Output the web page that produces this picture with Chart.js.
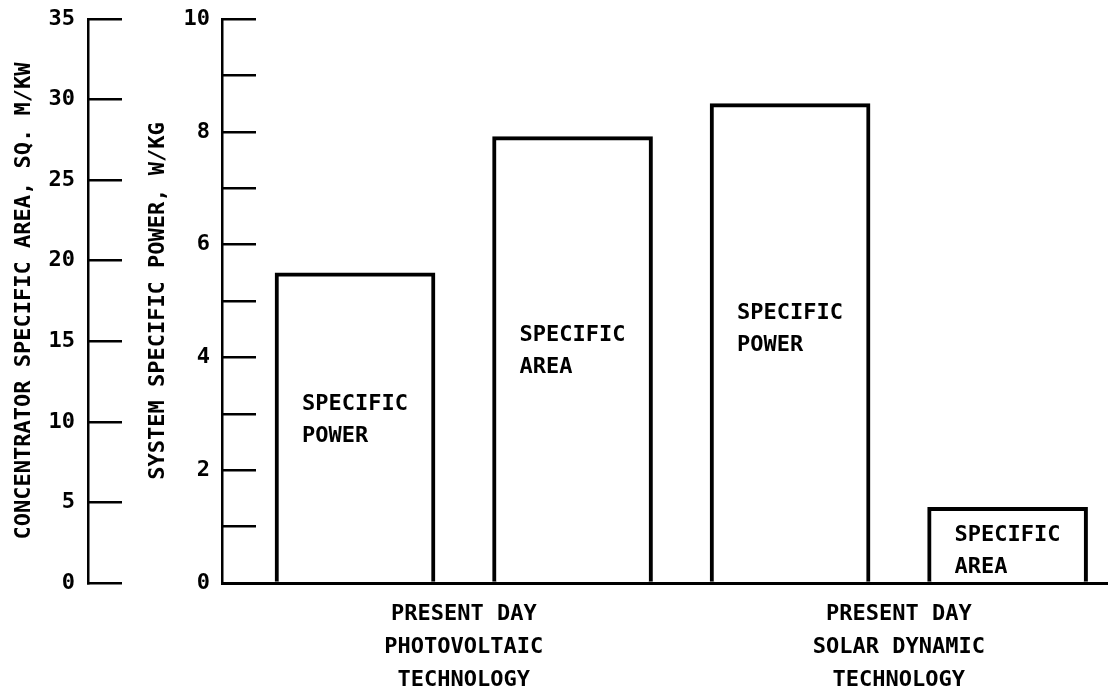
<!DOCTYPE html>
<html>
<head>
<meta charset="utf-8">
<script src="https://cdn.jsdelivr.net/npm/chart.js@4.4.0/dist/chart.umd.min.js"></script>
<style>
  html, body { margin: 0; padding: 0; background: #ffffff; }
  #wrap { width: 1111px; height: 693px; position: relative; }
</style>
</head>
<body>
<div id="wrap"><canvas id="c"></canvas></div>
<script>
// ---- data ----
const groupLabels = [
  ['PRESENT DAY', 'PHOTOVOLTAIC', 'TECHNOLOGY'],
  ['PRESENT DAY', 'SOLAR DYNAMIC', 'TECHNOLOGY']
];
const groupCenters = [1.5, 3.5];          // group positions on the bar-slot axis
const barSlots = [1, 2, 3, 4];            // bar order along the x axis
const specificPower = [5.5, null, 8.5, null];   // W/kg  (inner axis)
const specificArea  = [null, 27.7, null, 4.7];  // sq. m/kW (outer axis)
const barTexts = [
  ['SPECIFIC', 'POWER'],
  ['SPECIFIC', 'AREA'],
  ['SPECIFIC', 'POWER'],
  ['SPECIFIC', 'AREA']
];
const barTextLevels = [3.16, 4.40, 4.79, 0.85]; // W/kg level of first text line
const powerTicks = { min: 0, max: 10, step: 1 };
const areaTicks  = { min: 0, max: 35, step: 5 };

const FONT = 'DejaVu Sans Mono';
const WEIGHT = 'bold';
Chart.defaults.font.family = FONT;
Chart.defaults.font.size = 22;
Chart.defaults.font.weight = WEIGHT;
Chart.defaults.color = '#000';

const toPoints = (vals) => barSlots
  .map((x, i) => ({ x: x, y: vals[i], slot: i }))
  .filter(p => p.y !== null);

const barTextPlugin = {
  id: 'barText',
  afterDatasetsDraw(chart) {
    const ctx = chart.ctx;
    const yP = chart.scales.yPower;
    ctx.save();
    ctx.font = WEIGHT + ' 22px "' + FONT + '"';
    ctx.fillStyle = '#000';
    ctx.textAlign = 'left';
    ctx.textBaseline = 'middle';
    chart.data.datasets.forEach((ds, di) => {
      const meta = chart.getDatasetMeta(di);
      meta.data.forEach((el, j) => {
        const slot = ds.data[j].slot;
        const left = el.x - el.width / 2 + 27;
        const y0 = yP.getPixelForValue(barTextLevels[slot]);
        barTexts[slot].forEach((t, k) => ctx.fillText(t, left, y0 + k * 32));
      });
    });
    ctx.restore();
  }
};

const fitY = (w) => (axis) => { axis.width = w; axis.paddingTop = 0; axis.paddingBottom = 0; };

new Chart(document.getElementById('c'), {
  type: 'bar',
  data: {
    datasets: [
      {
        label: 'Specific power',
        data: toPoints(specificPower),
        yAxisID: 'yPower',
        backgroundColor: '#ffffff',
        borderColor: '#000000',
        borderWidth: 4,
        borderSkipped: 'bottom',
        grouped: false,
        barThickness: 160
      },
      {
        label: 'Specific area',
        data: toPoints(specificArea),
        yAxisID: 'yArea',
        backgroundColor: '#ffffff',
        borderColor: '#000000',
        borderWidth: 4,
        borderSkipped: 'bottom',
        grouped: false,
        barThickness: 160
      }
    ]
  },
  options: {
    responsive: true,
    maintainAspectRatio: false,
    animation: false,
    layout: { padding: { top: 19, right: 4, left: 0, bottom: 0 } },
    plugins: { legend: { display: false }, tooltip: { enabled: false } },
    scales: {
      x: {
        type: 'linear',
        offset: false,
        min: 0.3885,
        max: 4.457,
        grid: { display: false, offset: false },
        border: { display: true, color: '#000', width: 3 },
        afterBuildTicks: (axis) => { axis.ticks = groupCenters.map(v => ({ value: v })); },
        afterFit: (axis) => { axis.height = 110; axis.paddingLeft = 0; axis.paddingRight = 0; },
        ticks: {
          autoSkip: false,
          maxRotation: 0,
          padding: 7,
          font: { size: 22, lineHeight: 1.5 },
          callback: (v, i) => groupLabels[i]
        }
      },
      yPower: {
        type: 'linear',
        position: 'left',
        weight: 0,
        min: powerTicks.min,
        max: powerTicks.max,
        afterFit: fitY(134),
        ticks: {
          stepSize: powerTicks.step,
          padding: 46,
          font: { size: 22, lineHeight: 1.2 },
          callback: (v) => (v % 2 === 0 ? String(v) : '')
        },
        grid: { display: true, drawOnChartArea: false, drawTicks: true, tickLength: -34, lineWidth: 2.5, color: '#000' },
        border: { display: true, color: '#000', width: 2.5 },
        title: {
          display: true,
          text: 'SYSTEM SPECIFIC POWER, W/KG',
          font: { size: 22, lineHeight: 1.2 },
          padding: { top: 57, bottom: 0 }
        }
      },
      yArea: {
        type: 'linear',
        position: 'left',
        weight: 1,
        min: areaTicks.min,
        max: areaTicks.max,
        afterFit: fitY(88),
        ticks: {
          stepSize: areaTicks.step,
          padding: 47,
          font: { size: 22, lineHeight: 1.2 }
        },
        grid: { display: true, drawOnChartArea: false, drawTicks: true, tickLength: -34, lineWidth: 2.5, color: '#000' },
        border: { display: true, color: '#000', width: 2.5 },
        title: {
          display: true,
          text: 'CONCENTRATOR SPECIFIC AREA, SQ. M/KW',
          font: { size: 22, lineHeight: 1.2 },
          padding: { top: 11, bottom: 0 }
        }
      }
    }
  },
  plugins: [barTextPlugin]
});
</script>
</body>
</html>
